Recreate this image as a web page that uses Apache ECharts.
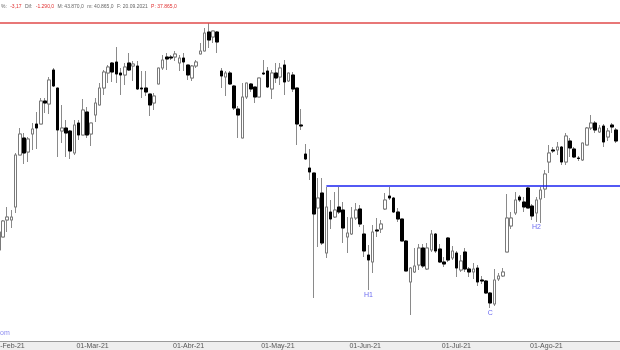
<!DOCTYPE html>
<html><head><meta charset="utf-8">
<script src="https://cdn.jsdelivr.net/npm/echarts@6/dist/echarts.min.js"></script>
<style>html,body{margin:0;padding:0;background:#fff}#c{width:620px;height:350px}</style>
</head><body><div id="c"></div>
<script>
// daily candles, first visible session ~03-Feb-21
const open  = [41600,41730,41900,41900,42030,42550,42720,42580,42760,42860,42860,43090,43060,43400,43220,42790,42820,42790,42570,42870,42750,42980,42760,42950,43050,43220,43370,43470,43480,43370,43350,43470,43440,43440,43220,43220,43160,43070,43260,43420,43530,43530,43530,43470,43520,43450,43320,43440,43560,43590,43780,43730,43780,43390,43330,43370,43240,43010,42720,43130,43260,43230,43130,43370,43390,43210,43370,43330,43450,43290,43350,43220,42850,42560,42420,42370,42020,42170,41570,41980,41930,42030,42000,41730,41760,41920,42010,41760,41550,41480,41800,41810,42010,42140,42120,41980,41910,41690,41280,41380,41450,41620,41410,41600,41760,41610,41480,41720,41520,41570,41400,41580,41410,41380,41420,41300,41290,41170,41060,41310,41340,41580,41840,41970,42130,42080,42220,42040,41970,42110,42210,42480,42600,42600,42630,42480,42690,42610,42520,42500,42650,42820,42870,42780,42840,42730,42850,42800];
const close = [41780,41890,41930,41930,42550,42760,42570,42710,42810,42820,43090,43070,43300,43240,42800,42820,42770,42590,42850,42750,43000,42750,42870,43070,43220,43380,43430,43380,43360,43350,43430,43400,43460,43210,43210,43180,43050,43140,43420,43500,43510,43520,43560,43520,43480,43350,43440,43480,43590,43770,43700,43790,43680,43340,43370,43260,43020,42950,43130,43270,43210,43130,43320,43360,43230,43370,43320,43420,43280,43370,43210,42860,42840,42510,42380,41960,42120,41670,42030,41910,42000,41980,41820,41770,41920,42000,41860,41590,41500,41780,41790,41860,42100,42120,41980,41910,41690,41390,41420,41440,41620,41440,41620,41760,41590,41480,41460,41500,41590,41420,41490,41410,41380,41410,41280,41290,41170,41070,41300,41340,41380,41920,41920,42100,42100,42030,42020,41940,42100,42200,42360,42570,42590,42630,42480,42740,42620,42530,42515,42670,42820,42870,42800,42820,42680,42790,42830,42690];
const low   = [41500,41730,41780,41820,41970,42550,42460,42480,42600,42610,42860,42970,42960,43230,42530,42670,42530,42510,42550,42700,42750,42720,42640,42880,43050,43150,43270,43280,43270,43150,43250,43390,43290,43200,43120,43140,42940,43000,43260,43400,43400,43500,43490,43390,43390,43300,43290,43420,43560,43590,43620,43670,43570,43220,43140,43250,43000,42720,42720,43110,43180,43070,43130,43350,43220,43110,43270,43250,43150,43280,43180,42650,42800,42500,42300,41120,41630,41650,41520,41810,41920,41960,41670,41570,41750,41900,41830,41530,41200,41370,41730,41770,42000,42100,41970,41880,41690,41390,40950,41370,41400,41420,41400,41580,41570,41470,41430,41480,41500,41330,41380,41380,41330,41310,41240,41260,41160,41020,41040,41290,41330,41580,41810,41950,42080,41980,42020,41900,41880,41870,42120,42370,42570,42550,42450,42450,42530,42520,42490,42490,42650,42800,42770,42770,42630,42690,42770,42670];
const high  = [41820,41900,42030,42000,42570,42820,42770,42730,42870,42980,43120,43120,43330,43420,43220,43050,42900,42800,42900,42900,43110,43030,42870,43120,43270,43400,43450,43480,43630,43420,43470,43570,43490,43490,43390,43390,43160,43170,43420,43550,43570,43550,43590,43550,43570,43450,43450,43500,43670,43820,43870,43790,43790,43420,43390,43390,43250,43040,43270,43270,43270,43230,43320,43500,43430,43400,43470,43470,43500,43370,43380,43220,43010,42660,42610,42370,42320,42320,42230,42100,42180,42230,42080,41930,42030,42070,42050,41850,41650,41850,41920,41900,42170,42230,42130,42020,41910,41700,41430,41620,41660,41660,41670,41800,41770,41660,41530,41730,41640,41590,41550,41620,41430,41470,41450,41340,41300,41180,41410,41370,41420,42160,41980,42180,42150,42130,42230,42060,42130,42230,42400,42650,42630,42680,42640,42770,42720,42630,42540,42670,42830,42950,42890,42850,42860,42820,42870,42820];

// x-axis month ticks (candle numbers, 1 = first visible candle)
const tickLabels = ['01-Feb-21','01-Mar-21','01-Abr-21','01-May-21','01-Jun-21','01-Jul-21','01-Ago-21'];
const tickCandle = [-1, 19, 42, 63, 84, 106, 127];

// horizontal levels
const topLevel = 43870;          // red line (max)
const neckLevel = 42240;         // blue line
const neckStartCandle = 79;

// annotations
const annotText = ['H1','C','H2'];
const annotCandle = [89, 118, 129];

const lead = 2;
const N = open.length;
const total = lead + N + 1;
const cats = [];
for (let i = 0; i < total; i++) cats.push('d' + (i - lead + 1));
const catOf = c => cats[c + lead - 1];

const empty = ['-','-','-','-'];
const wickData = cats.map((c, i) => { const k = i - lead; return (k < 0 || k >= N) ? empty : [open[k], close[k], low[k], high[k]]; });
const bodyData = cats.map((c, i) => { const k = i - lead; return (k < 0 || k >= N) ? empty : [open[k], close[k], Math.min(open[k], close[k]), Math.max(open[k], close[k])]; });

const tickIdx = tickCandle.map(c => c + lead - 1);
const labelAt = {}; tickIdx.forEach((t, j) => labelAt[t] = tickLabels[j]);

const step = 4.2;
const gridLeft = -9.6 - step / 2;
const gridWidth = total * step;
const ff = 'Liberation Sans, Arial, sans-serif';

const chart = echarts.init(document.getElementById('c'), null, {renderer: 'canvas'});
chart.setOption({
  animation: false,
  backgroundColor: '#ffffff',
  grid: { left: gridLeft, top: 0, width: gridWidth, height: 341, containLabel: false, outerBoundsMode: 'none' },
  xAxis: {
    type: 'category', data: cats, boundaryGap: true,
    axisLine: { lineStyle: { color: '#9a9a9a', width: 1 } },
    axisTick: { alignWithLabel: true, length: 5, interval: i => i in labelAt, lineStyle: { color: '#8a8a8a' } },
    axisLabel: { interval: i => i in labelAt, formatter: (v, i) => labelAt[i] || '', align: 'left', margin: 2,
      fontSize: 7, color: '#555', fontFamily: ff, padding: [0,0,0,2] },
    splitLine: { show: false }
  },
  yAxis: { type: 'value', min: 40690, max: 44100, show: false, splitLine: { show: false } },
  graphic: [
    { type: 'rect', z: -1, shape: { x: 0, y: 341, width: 620, height: 9 }, style: { fill: '#eeeeee' } },
    { type: 'text', x: 0, y: 330, style: { text: 'om', fill: '#8c8cf0', fontSize: 7, fontFamily: ff } },
    { type: 'text', x: 1, y: 1, style: {
      text: '{g|%:} {r|-3,17} {g|Dif:} {r|-1.290,0} {g|M: 43.870,0} {g|m: 40.865,0} {g|F: 20.09.2021} {r|P: 37.865,0}',
      rich: { g: { fill: '#666', fontSize: 5, fontFamily: ff },
              r: { fill: '#e03030', fontSize: 5, fontFamily: ff } } } }
  ],
  series: [
    {
      type: 'candlestick', data: wickData, barWidth: 3, silent: true,
      itemStyle: { color: 'rgba(0,0,0,0)', color0: 'rgba(0,0,0,0)', borderColor: '#8a8a8a', borderColor0: '#8a8a8a', borderColorDoji: '#8a8a8a', borderWidth: 1 },
      markLine: {
        silent: true, symbol: ['none', 'none'], label: { show: false },
        data: [
          { yAxis: topLevel, lineStyle: { color: '#e04a4a', width: 1.5, type: 'solid' } },
          [ { coord: [catOf(neckStartCandle), neckLevel], lineStyle: { color: '#1a22f0', width: 1.5, type: 'solid' } },
            { coord: [cats[total - 1], neckLevel] } ]
        ]
      },
      markPoint: {
        silent: true, symbol: 'rect', symbolSize: 0,
        label: { show: true, position: 'bottom', distance: 2, formatter: p => p.name, color: '#6b6bf0', fontSize: 7, fontFamily: ff },
        data: annotText.map((t, j) => ({ name: t, coord: [catOf(annotCandle[j]), low[annotCandle[j] - 1]] }))
      }
    },
    {
      type: 'candlestick', data: bodyData, barWidth: 3, silent: true,
      itemStyle: { color: '#ffffff', color0: '#000000', borderColor: '#7a7a7a', borderColor0: '#000000', borderColorDoji: '#000000', borderWidth: 1 }
    }
  ]
});
</script></body></html>
